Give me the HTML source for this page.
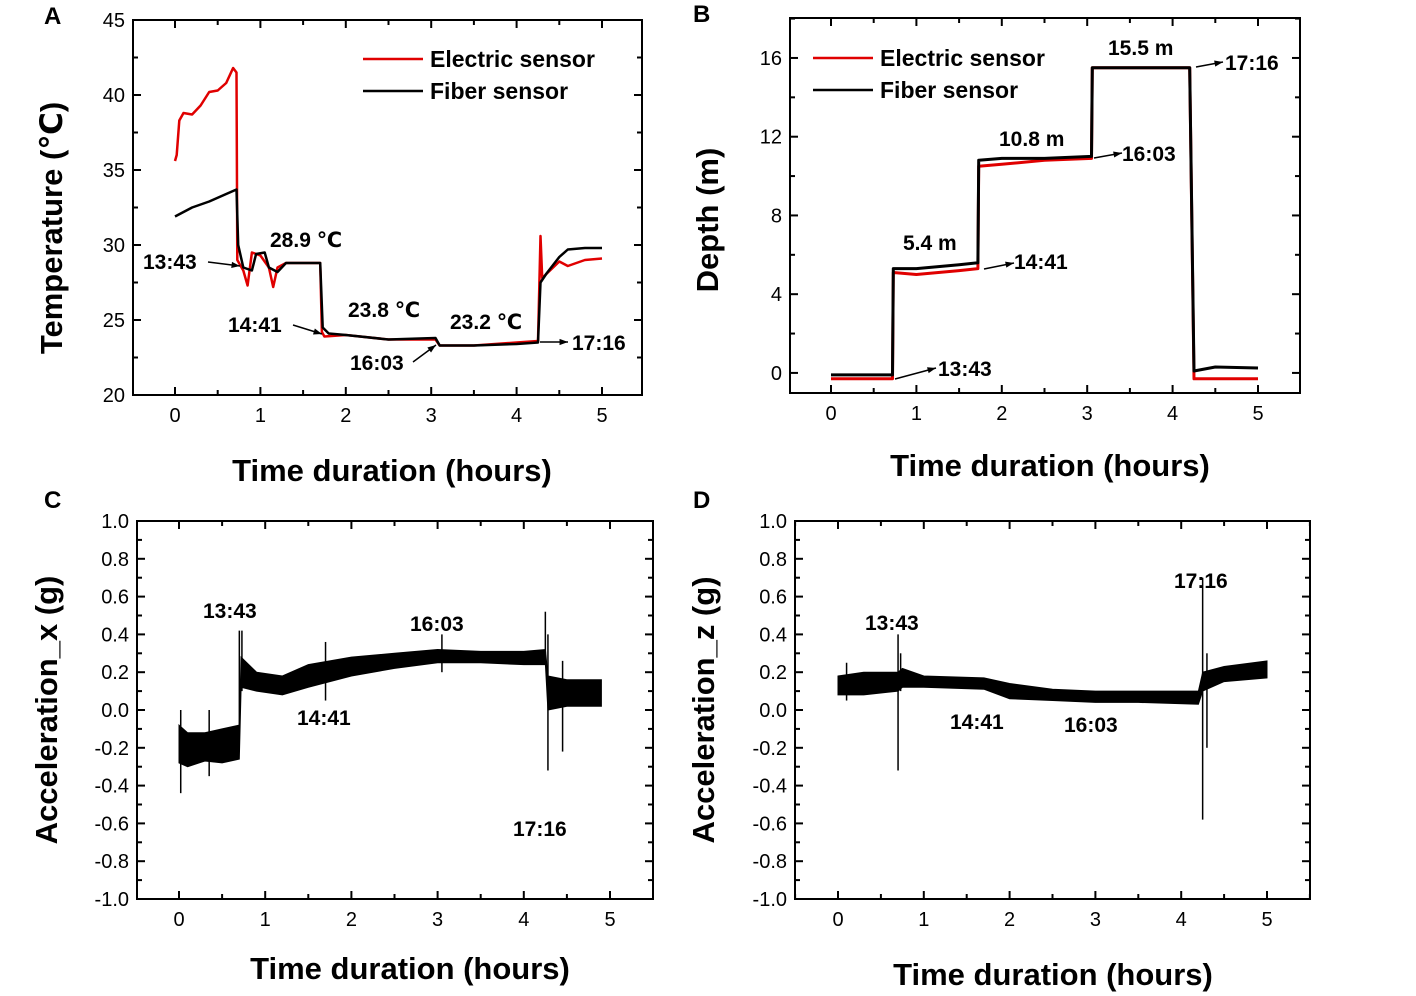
<!DOCTYPE html>
<html><head><meta charset="utf-8"><style>
body{margin:0;background:#fff;}
svg{display:block;font-family:"Liberation Sans","DejaVu Sans",sans-serif;}
.tk{font-size:20px;fill:#000;}
.lab{font-size:31px;font-weight:bold;fill:#000;}
.ann{font-size:21px;font-weight:bold;fill:#000;}
.pl{font-size:24px;font-weight:bold;fill:#000;}
</style></head><body>
<svg id="fig" width="1416" height="996" viewBox="0 0 1416 996"></svg>
<script>
// Panel A data
const aElecT=[0,0.02,0.05,0.1,0.2,0.3,0.4,0.5,0.6,0.68,0.72,0.73,0.8,0.85,0.9,1.0,1.1,1.15,1.2,1.3,1.5,1.7,1.72,1.75,2,2.5,3.05,3.1,3.5,4,4.25,4.28,4.3,4.5,4.6,4.8,5];
const aElecV=[35.6,36,38.3,38.8,38.7,39.3,40.2,40.3,40.8,41.8,41.5,29,28.3,27.3,29.5,29.3,28.5,27.2,28.5,28.8,28.8,28.8,24.2,23.9,24,23.7,23.7,23.3,23.3,23.5,23.6,30.6,27.8,28.9,28.6,29,29.1];
const aFibT=[0,0.2,0.4,0.6,0.72,0.74,0.8,0.9,0.95,1.05,1.1,1.2,1.3,1.7,1.73,1.8,2,2.5,3.05,3.1,3.5,4,4.25,4.28,4.35,4.5,4.6,4.8,5];
const aFibV=[31.9,32.5,32.9,33.4,33.7,30,28.5,28.3,29.4,29.5,28.5,28.2,28.8,28.8,24.5,24.1,24,23.7,23.8,23.3,23.3,23.4,23.5,27.5,28.1,29.2,29.7,29.8,29.8];
// Panel B data
const bElecT=[0,0.72,0.73,1,1.5,1.72,1.73,2,2.5,3.05,3.06,4.2,4.25,5];
const bElecV=[-0.3,-0.3,5.1,5,5.2,5.3,10.5,10.6,10.8,10.9,15.5,15.5,-0.3,-0.3];
const bFibT=[0,0.72,0.73,1,1.5,1.72,1.73,2,2.5,3.05,3.06,4.2,4.25,4.5,5];
const bFibV=[-0.1,-0.1,5.3,5.3,5.5,5.6,10.8,10.9,10.9,11,15.5,15.5,0.1,0.3,0.25];
// Panel C data (noise band envelopes)
const cBandT=[0,0.1,0.3,0.5,0.7,0.72,0.9,1.2,1.5,2,2.5,3,3.5,4,4.25,4.28,4.5,4.9];
const cBandLo=[-0.28,-0.3,-0.27,-0.28,-0.26,0.12,0.1,0.08,0.12,0.18,0.22,0.25,0.25,0.24,0.24,0.0,0.02,0.02];
const cBandHi=[-0.08,-0.12,-0.12,-0.1,-0.08,0.28,0.2,0.18,0.24,0.28,0.3,0.32,0.31,0.31,0.32,0.18,0.16,0.16];
const cSpikeT=[0.02,0.35,0.7,0.73,1.7,3.05,4.25,4.28,4.45];
const cSpikeLo=[-0.44,-0.35,-0.1,0.1,0.05,0.2,0.3,-0.32,-0.22];
const cSpikeHi=[0,0,0.42,0.42,0.36,0.4,0.52,0.4,0.26];
// Panel D data
const dBandT=[0,0.3,0.7,0.75,1.0,1.7,2,2.5,3,3.5,4.2,4.25,4.5,5];
const dBandLo=[0.08,0.08,0.1,0.12,0.12,0.11,0.06,0.05,0.04,0.04,0.03,0.1,0.15,0.17];
const dBandHi=[0.18,0.2,0.2,0.22,0.18,0.17,0.14,0.11,0.1,0.1,0.1,0.2,0.23,0.26];
const dSpikeT=[0.1,0.7,0.73,4.25,4.3];
const dSpikeLo=[0.05,-0.32,0.1,-0.58,-0.2];
const dSpikeHi=[0.25,0.4,0.3,0.7,0.3];
const xTicks=[0,1,2,3,4,5];
const aYTicks=[20,25,30,35,40,45];
const bYTicks=[0,4,8,12,16];
const accTicks=[-1.0,-0.8,-0.6,-0.4,-0.2,0.0,0.2,0.4,0.6,0.8,1.0];

const NS='http://www.w3.org/2000/svg';
const svg=document.getElementById('fig');
function mk(tag,attrs,parent,text){const e=document.createElementNS(NS,tag);for(const k in attrs)e.setAttribute(k,attrs[k]);if(text!==undefined)e.textContent=text;(parent||svg).appendChild(e);return e;}
function panel(p){
  const g=mk('g',{});
  
  
  const X=v=>p.x0+(v-0)*(p.x5-p.x0)/5;
  const Y=v=>p.bot-(v-p.ymin)*(p.bot-p.top)/(p.ymax-p.ymin);
  const fr=mk('rect',{x:p.L,y:p.top,width:p.R-p.L,height:p.bot-p.top,fill:'none',stroke:'#000','stroke-width':2},g);
  
  
  // x ticks incl minor
  for(let v=-0.5;v<=5.5001;v+=0.5){const x=X(v);if(x<p.L||x>p.R)continue;const major=Math.abs(v-Math.round(v))<1e-6;const l=major?8:5;
    mk('line',{x1:x,y1:p.bot,x2:x,y2:p.bot-l,stroke:'#000','stroke-width':2},g);
    mk('line',{x1:x,y1:p.top,x2:x,y2:p.top+l,stroke:'#000','stroke-width':2},g);}
  xTicks.forEach(v=>{const t=mk('text',{x:X(v),y:p.bot+27,'text-anchor':'middle',class:'tk'},g,String(v));});
  const yt=p.yticks;const step=(yt[1]-yt[0])/2;
  for(let v=p.ymin;v<=p.ymax+1e-6;v+=step/1){ }
  for(let i=-2;i<yt.length*2+2;i++){const v=yt[0]+i*step;const y=Y(v);if(y<p.top-0.5||y>p.bot+0.5)continue;const major=i%2===0;const l=major?8:5;
    mk('line',{x1:p.L,y1:y,x2:p.L+l,y2:y,stroke:'#000','stroke-width':2},g);
    mk('line',{x1:p.R,y1:y,x2:p.R-l,y2:y,stroke:'#000','stroke-width':2},g);}
  yt.forEach(v=>{const t=mk('text',{x:p.L-8,y:Y(v)+7,'text-anchor':'end',class:'tk'},g,p.fmt?p.fmt(v):String(v));});
  const xl=mk('text',{x:p.xlx,y:p.xly,'text-anchor':'middle',class:'lab'},g,'Time duration (hours)');
  
  const yl=mk('text',{x:0,y:0,'text-anchor':'middle',class:'lab',transform:`translate(${p.ylx},${p.yly}) rotate(-90)`},g,p.ytitle);
  
  const pl=mk('text',{x:p.plx,y:p.ply,class:'pl'},g,p.letter);
  
  return {g,X,Y};
}
function line(ax,T,V,color,name,w){const d=T.map((t,i)=>(i?'L':'M')+ax.X(t).toFixed(1)+','+ax.Y(V[i]).toFixed(1)).join('');
  const e=mk('path',{d,fill:'none',stroke:color,'stroke-width':w||2.5,'stroke-linejoin':'round'},ax.g);
  }
function band(ax,T,Lo,Hi,name){let d=T.map((t,i)=>(i?'L':'M')+ax.X(t).toFixed(1)+','+ax.Y(Hi[i]).toFixed(1)).join('');
  for(let i=T.length-1;i>=0;i--)d+='L'+ax.X(T[i]).toFixed(1)+','+ax.Y(Lo[i]).toFixed(1);d+='Z';
  const e=mk('path',{d,fill:'#000',stroke:'#000','stroke-width':1},ax.g);}
function spikes(ax,T,Lo,Hi){T.forEach((t,i)=>{const e=mk('line',{x1:ax.X(t),x2:ax.X(t),y1:ax.Y(Lo[i]),y2:ax.Y(Hi[i]),stroke:'#000','stroke-width':1.5},ax.g);});}
function ann(ax,x,y,s,anchor){const t=mk('text',{x,y,class:'ann','text-anchor':anchor||'start'},ax.g,s);}
function arrow(ax,x1,y1,x2,y2){const e=mk('line',{x1,y1,x2,y2,stroke:'#000','stroke-width':1.5},ax.g);
  const a=Math.atan2(y2-y1,x2-x1),L=9;mk('path',{d:`M${x2},${y2}L${x2-L*Math.cos(a-0.35)},${y2-L*Math.sin(a-0.35)}L${x2-L*Math.cos(a+0.35)},${y2-L*Math.sin(a+0.35)}Z`,fill:'#000'},ax.g);}
function legend(ax,x,y){[['#e00000','Electric sensor'],['#000','Fiber sensor']].forEach((it,i)=>{const g=mk('g',{},ax.g);
  mk('line',{x1:x,x2:x+60,y1:y+i*32,y2:y+i*32,stroke:it[0],'stroke-width':2.5},g);mk('text',{x:x+67,y:y+i*32+8,class:'ann','font-size':'23'},g,it[1]).style.fontSize='23px';});}

// A
const A=panel({name:'panel-a-temperature',L:133,R:642,top:20,bot:395,x0:175,x5:602,ymin:20,ymax:45,yticks:aYTicks,ytitle:'Temperature (℃)',ylx:62,yly:228,xlx:392,xly:481,plx:44,ply:24,letter:'A'});
line(A,aElecT,aElecV,'#e00000','electric-sensor-line');
line(A,aFibT,aFibV,'#000','fiber-sensor-line');
legend(A,363,59);
ann(A,143,269,'13:43');arrow(A,208,262,240,266);
ann(A,270,247,'28.9 ℃');
ann(A,228,332,'14:41');arrow(A,293,325,322,334);
ann(A,348,317,'23.8 ℃');
ann(A,450,329,'23.2 ℃');
ann(A,350,370,'16:03');arrow(A,413,362,436,345);
ann(A,572,350,'17:16');arrow(A,540,342,568,342);
// B
const B=panel({name:'panel-b-depth',L:790,R:1300,top:18,bot:393,x0:831,x5:1258,ymin:-1.02,ymax:18.03,yticks:bYTicks,ytitle:'Depth (m)',ylx:718,yly:220,xlx:1050,xly:476,plx:693,ply:22,letter:'B'});
line(B,bElecT,bElecV,'#e00000','electric-sensor-line',3);
line(B,bFibT,bFibV,'#000','fiber-sensor-line',3);
legend(B,813,58);
ann(B,903,250,'5.4 m');ann(B,999,146,'10.8 m');ann(B,1108,55,'15.5 m');
ann(B,938,376,'13:43');arrow(B,895,379,936,368);
ann(B,1014,269,'14:41');arrow(B,984,269,1014,263);
ann(B,1122,161,'16:03');arrow(B,1094,158,1122,153);
ann(B,1225,70,'17:16');arrow(B,1196,67,1223,62);
// C
const fmt=v=>v.toFixed(1);
const C=panel({name:'panel-c-acceleration-x',L:137,R:653,top:521,bot:899,x0:179,x5:610,ymin:-1,ymax:1,yticks:accTicks,fmt,ytitle:'Acceleration_x (g)',ylx:57,yly:710,xlx:410,xly:979,plx:44,ply:508,letter:'C'});
band(C,cBandT,cBandLo,cBandHi,'acceleration-x-band');spikes(C,cSpikeT,cSpikeLo,cSpikeHi);
ann(C,203,618,'13:43');ann(C,297,725,'14:41');ann(C,410,631,'16:03');ann(C,513,836,'17:16');
// D
const D=panel({name:'panel-d-acceleration-z',L:795,R:1310,top:521,bot:899,x0:838,x5:1267,ymin:-1,ymax:1,yticks:accTicks,fmt,ytitle:'Acceleration_z (g)',ylx:714,yly:710,xlx:1053,xly:985,plx:693,ply:508,letter:'D'});
band(D,dBandT,dBandLo,dBandHi,'acceleration-z-band');spikes(D,dSpikeT,dSpikeLo,dSpikeHi);
ann(D,865,630,'13:43');ann(D,950,729,'14:41');ann(D,1064,732,'16:03');ann(D,1174,588,'17:16');
</script>
</body></html>
